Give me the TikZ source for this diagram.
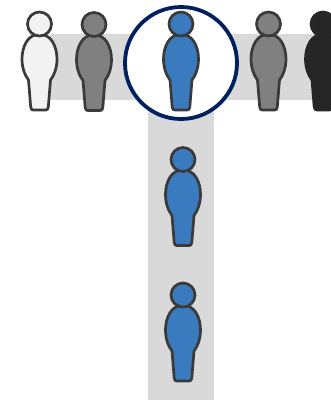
\documentclass[tikz,border=0pt]{standalone}
\definecolor{bandgray}{HTML}{D9D9D9}
\definecolor{personblue}{HTML}{3A7ABF}
\definecolor{ringblue}{HTML}{002060}
\definecolor{outline}{HTML}{3A3A3A}
\tikzset{
  person/.pic={
    % body
    \draw[pic actions] (0,10.5) .. controls (12,10) and (17.5,23) .. (17.5,35)
      .. controls (17.5,45) and (14,52) .. (11,56) -- (8.8,83)
      .. controls (8.6,85.5) and (7.5,86) .. (6,86) -- (-6,86)
      .. controls (-7.5,86) and (-8.6,85.5) .. (-8.8,83) -- (-11,56)
      .. controls (-14,52) and (-17.5,45) .. (-17.5,35)
      .. controls (-17.5,23) and (-12,10) .. (0,10.5) -- cycle;
    % head
    \draw[pic actions] (0,0) circle (12);
  },
  figure/.style={draw=outline,line width=2.7pt,line join=round},
  light/.style={figure,fill=black!5},
  midgray/.style={figure,fill=black!50},
  dark/.style={figure,draw=black!85,fill=black!85},
  active/.style={figure,fill=personblue}
}
\begin{document}
\begin{tikzpicture}[x=1pt,y=-1pt]
\useasboundingbox (0,0) rectangle (331,400);
% Bands
\fill[bandgray] (50,34) rectangle (331,100);
\fill[bandgray] (148,100) rectangle (214,400);
% Ring
\draw[ringblue,fill=white,line width=3.8pt] (181,63) circle (56);
% Row
\pic[light] at (39.5,24) {person};
\pic[midgray] at (94,24.5) {person};
\pic[active] at (181,24) {person};
\pic[midgray] at (268.5,24) {person};
\pic[dark] at (323,24) {person};
% Column
\pic[active] at (183,159.5) {person};
\pic[active] at (183,295) {person};
\end{tikzpicture}
\end{document}
